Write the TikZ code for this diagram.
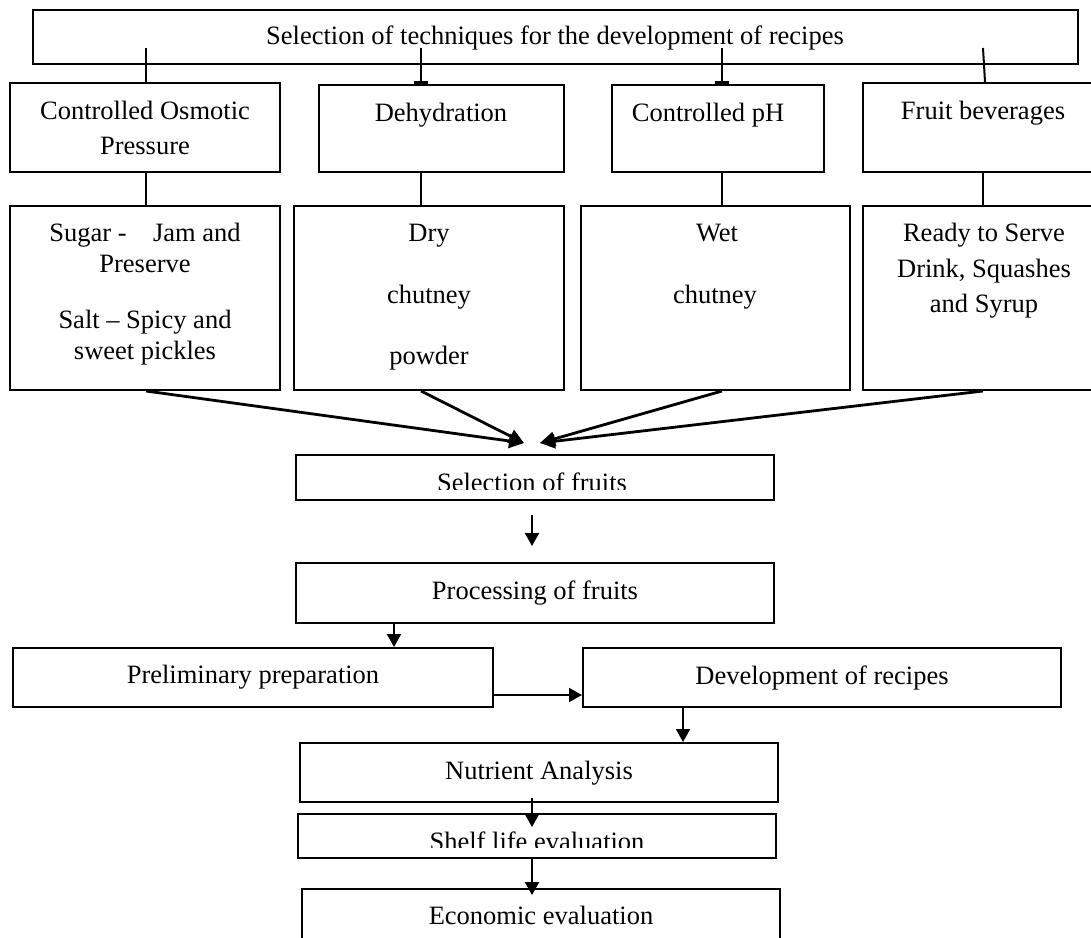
\documentclass[tikz,border=0pt]{standalone}
\usepackage{fontspec}
\setmainfont{Liberation Serif}
\usetikzlibrary{fit,arrows.meta}
\begin{document}
\begin{tikzpicture}[x=0.5pt,y=-0.5pt,
 box/.style={draw, line width=1pt, inner sep=0pt},
 txt/.style={inner sep=0pt, anchor=base, font=\fontsize{13.25pt}{16pt}\selectfont},
 ln/.style={line width=1pt},
 arr/.style={line width=1pt, -{Triangle[length=6.5pt,width=7pt]}},
 conv/.style={line width=1.4pt, -{Triangle[length=7.5pt,width=7pt]}},
 tickline/.style={line width=1pt, -{Bar[width=7pt,line width=1.5pt]}}
]
\clip (0,0) rectangle (1091,937);
\fill[white] (0,0) rectangle (1091,937);

% top box
\node[box, fit={(33,10) (1078,64)}] (top) {};
\node[txt] (topT) at (555,44) {Selection of techniques for the development of recipes};

% row 1
\node[box, fit={(10,83) (280,172)}] (cop) {};
\node[txt] (copT1) at (145,119) {Controlled Osmotic};
\node[txt] (copT2) at (145,154) {Pressure};
\node[box, fit={(319,85) (564,172)}] (deh) {};
\node[txt] (dehT) at (441,121) {Dehydration};
\node[box, fit={(612,85) (824,172)}] (ph) {};
\node[txt] (phT) at (708,121) {Controlled pH};
\node[box, fit={(863,83) (1100,172)}] (fb) {};
\node[txt] (fbT) at (983,119) {Fruit beverages};

% row 2
\node[box, fit={(10,206) (280,390)}] (sug) {};
\node[txt] (sugT1) at (145,241) {Sugar -~~~~Jam and};
\node[txt] (sugT2) at (145,272) {Preserve};
\node[txt] (sugT3) at (145,328) {Salt -- Spicy and};
\node[txt] (sugT4) at (145,359) {sweet pickles};
\node[box, fit={(294,206) (564,390)}] (dry) {};
\node[txt] (dryT1) at (429,241) {Dry};
\node[txt] (dryT2) at (429,303) {chutney};
\node[txt] (dryT3) at (429,364) {powder};
\node[box, fit={(581,206) (850,390)}] (wet) {};
\node[txt] (wetT1) at (717,241) {Wet};
\node[txt] (wetT2) at (715,303) {chutney};
\node[box, fit={(863,206) (1100,390)}] (rts) {};
\node[txt] (rtsT1) at (984,241) {Ready to Serve};
\node[txt] (rtsT2) at (984,277) {Drink, Squashes};
\node[txt] (rtsT3) at (984,312) {and Syrup};

% lower flow
\node[box, fit={(296,455) (774,500)}] (sel) {};
\begin{scope}
\clip (296,455) rectangle (774,489);
\node[txt] (selT) at (532,491) {Selection of fruits};
\end{scope}
\node[box, fit={(296,563) (774,623)}] (proc) {};
\node[txt] (procT) at (535,599) {Processing of fruits};
\node[box, fit={(13,648) (493,707)}] (pre) {};
\node[txt] (preT) at (253,683) {Preliminary preparation};
\node[box, fit={(583,648) (1061,707)}] (dev) {};
\node[txt] (devT) at (822,684) {Development of recipes};
\node[box, fit={(300,743) (778,802)}] (nut) {};
\node[txt] (nutT) at (539,779) {Nutrient Analysis};
\node[box, fit={(298,814) (776,858)}] (shelf) {};
\begin{scope}
\clip (298,814) rectangle (776,847);
\node[txt] (shelfT) at (537,850) {Shelf life evaluation};
\end{scope}
\node[box, fit={(302,889) (780,965)}] (econ) {};
\node[txt] (econT) at (541,924) {Economic evaluation};

% connectors top -> row 1
\coordinate (a1) at (146,48);
\coordinate (a2) at (421,48);
\coordinate (a3) at (722,48);
\coordinate (a4) at (983,48);
\draw[ln] (a1) -- (a1 |- cop.north);
\draw[tickline] (a2) -- (a2 |- deh.north);
\draw[tickline] (a3) -- (a3 |- ph.north);
\draw[ln] (a4) -- ([xshift=1pt]a4 |- fb.north);

% row 1 -> row 2
\draw[ln] (a1 |- cop.south) -- (a1 |- sug.north);
\draw[ln] (a2 |- deh.south) -- (a2 |- dry.north);
\draw[ln] (a3 |- ph.south) -- (a3 |- wet.north);
\draw[ln] (a4 |- fb.south) -- (a4 |- rts.north);

% converging arrows
\coordinate (m1) at (524,443);
\coordinate (m2) at (540,443);
\draw[conv] (a1 |- sug.south) -- (m1);
\draw[conv] (a2 |- dry.south) -- (m1);
\draw[conv] (a3 |- wet.south) -- (m2);
\draw[conv] (a4 |- rts.south) -- (m2);

% vertical flow
\coordinate (x1) at (532,0);
\draw[arr, shorten <=7pt, shorten >=8pt] (x1 |- sel.south) -- (x1 |- proc.north);
\coordinate (p1) at (394,0);
\draw[arr] (p1 |- proc.south) -- (p1 |- pre.north);
\coordinate (h1) at (0,695);
\draw[arr] (pre.east |- h1) -- (dev.west |- h1);
\coordinate (d1) at (683,0);
\draw[arr] (d1 |- dev.south) -- (d1 |- nut.north);
\coordinate (n1) at (532,798);
\coordinate (n2) at (532,827);
\draw[arr] (n1) -- (n2);
\coordinate (e2) at (532,895);
\draw[arr] (x1 |- shelf.south) -- (e2);
\end{tikzpicture}
\end{document}
